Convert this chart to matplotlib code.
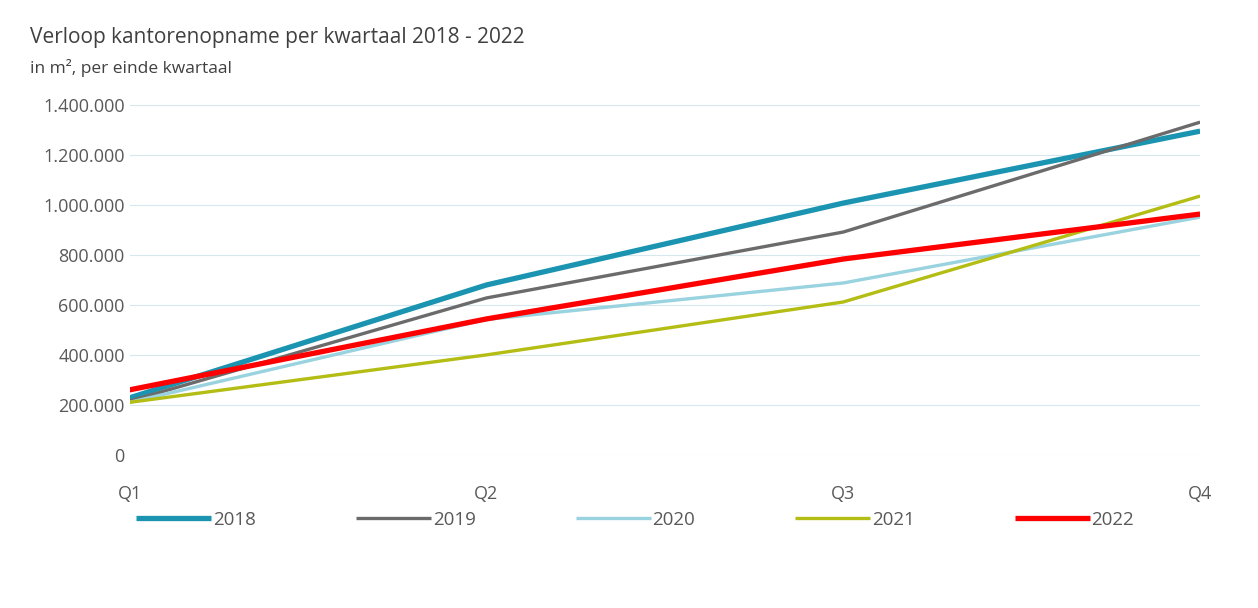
import matplotlib
matplotlib.use("Agg")
import matplotlib.pyplot as plt
from matplotlib.ticker import FuncFormatter

quarters = ["Q1", "Q2", "Q3", "Q4"]
years = ["2018", "2019", "2020", "2021", "2022"]
v2018 = [228000, 680000, 1008000, 1296000]
v2019 = [215000, 628000, 892000, 1332000]
v2020 = [210000, 542000, 688000, 952000]
v2021 = [210000, 400000, 612000, 1036000]
v2022 = [260000, 544000, 784000, 964000]
series = [v2018, v2019, v2020, v2021, v2022]
colors = ["#1a94b0", "#6b6b6b", "#98d3df", "#b3bd14", "#fe0000"]
widths = [3.8, 2.4, 2.4, 2.4, 3.8]

plt.rcParams['font.family'] = ['Open Sans', 'DejaVu Sans']
fig = plt.figure(figsize=(12.58, 6.08), dpi=100)
ax = fig.add_axes([0.103, 0.252, 0.851, 0.575])
x = list(range(len(quarters)))
for y, vals, c, w in zip(years, series, colors, widths):
    ax.plot(x, vals, color=c, lw=w, label=y, solid_capstyle='butt')
ax.set_xlim(0, 3)
ax.set_ylim(0, 1400000)
ax.set_yticks(range(0, 1400001, 200000))
ax.yaxis.set_major_formatter(FuncFormatter(lambda v, p: f"{int(v):,}".replace(",", ".")))
ax.set_xticks(x)
ax.set_xticklabels(quarters)
ax.grid(axis='y', color='#d6e8ee', lw=0.8)
for s in ax.spines.values():
    s.set_visible(False)
ax.tick_params(length=0, colors='#595959', labelsize=13)
ax.tick_params(axis='x', pad=22)
fig.text(0.024, 0.93, "Verloop kantorenopname per kwartaal 2018 - 2022", fontsize=15, color='#404040')
fig.text(0.024, 0.88, "in m², per einde kwartaal", fontsize=12.5, color='#404040')
fig.legend(loc='center left', bbox_to_anchor=(0.095, 0.115, 0.82, 0.06), ncol=5, mode='expand',
           frameon=False, fontsize=13.5, handlelength=4, handletextpad=0.1, labelcolor='#595959')
fig.savefig("out.png", dpi=100)
